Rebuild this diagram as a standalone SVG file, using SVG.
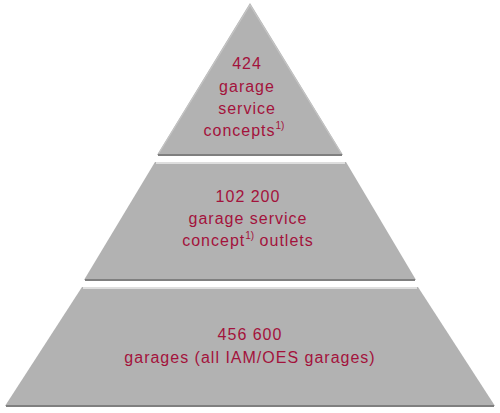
<svg xmlns="http://www.w3.org/2000/svg" width="500" height="413" viewBox="0 0 500 413">
<defs>
<style>
.tier{fill:#b2b2b2;}
.hi{fill:none;stroke:#ececec;stroke-width:1.6;}
.lo{fill:none;stroke:#7f7f7f;stroke-width:2;}
.side{fill:none;stroke:#c4c4c4;stroke-width:1.2;}
.t{font-family:"Liberation Sans",Arial,sans-serif;font-size:16px;fill:#a3123c;text-anchor:middle;letter-spacing:1px;}
.sup{font-size:10px;letter-spacing:0;}
</style>
</defs>
<rect width="500" height="413" fill="#ffffff"/>
<g id="tier-top">
<polygon class="tier" points="250,3 343,155 157,155"/>
<line class="lo" x1="158" y1="155" x2="342" y2="155"/>
<polyline class="side" points="159,153 250,5 341,153"/>
<text class="t" x="247" y="69">424</text>
<text class="t" x="247" y="92">garage</text>
<text class="t" x="247" y="114">service</text>
<text class="t" x="244" y="136">concepts<tspan class="sup" dy="-7">1)</tspan></text>
</g>
<g id="tier-middle">
<polygon class="tier" points="155,162 346,162 416,280 84,280"/>
<line class="hi" x1="156" y1="163" x2="345" y2="163"/>
<line class="lo" x1="85" y1="280" x2="415" y2="280"/>
<text class="t" x="248" y="202">102 200</text>
<text class="t" x="248" y="224">garage service</text>
<text class="t" x="248" y="246">concept<tspan class="sup" dy="-7">1)</tspan><tspan dy="7"> outlets</tspan></text>
</g>
<g id="tier-bottom">
<polygon class="tier" points="82,287 418,287 495,406 5,406"/>
<line class="hi" x1="83" y1="288" x2="417" y2="288"/>
<line class="lo" x1="6" y1="406" x2="494" y2="406"/>
<text class="t" x="250" y="340">456 600</text>
<text class="t" x="250" y="363">garages (all IAM/OES garages)</text>
</g>
</svg>
